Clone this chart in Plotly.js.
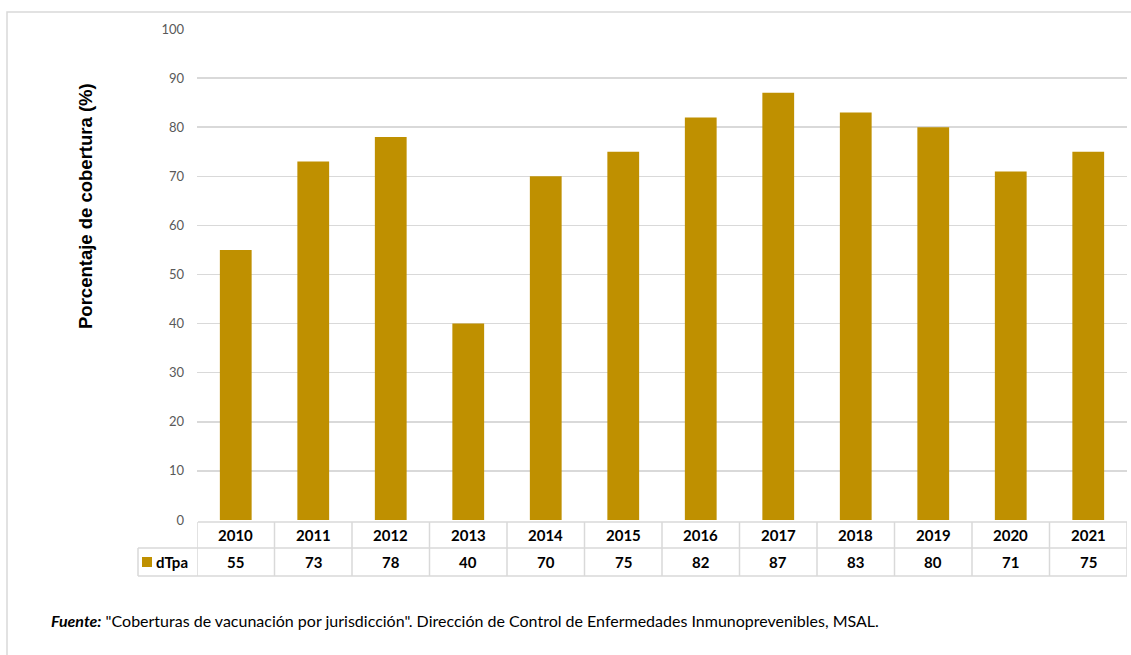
<!DOCTYPE html>
<html>
<head>
<meta charset="utf-8">
<script src="https://cdn.plot.ly/plotly-3.0.1.min.js"></script>
<style>html,body{margin:0;padding:0;background:#fff;}#chart{width:1131px;height:655px;}</style>
</head>
<body>
<div id="chart"></div>
<script>
const years = ["2010","2011","2012","2013","2014","2015","2016","2017","2018","2019","2020","2021"];
const dtpa = [55, 73, 78, 40, 70, 75, 82, 87, 83, 80, 71, 75];
const seriesName = "dTpa";
const yTicks = [0,10,20,30,40,50,60,70,80,90,100];

const W = 1131, H = 655;
const L = 197, R = 4, T = 29, B = 135;
const pw = W - L - R, ph = H - T - B;
const px = v => (v - L) / pw;           // pixel x -> paper
const py = v => (H - B - v) / ph;       // pixel y -> paper

const gold = '#BF9000';
const grid = '#d9d9d9';
const font = 'Lato, "Open Sans", sans-serif';

const shapes = [];
const annotations = [];

// outer frame
shapes.push({type:'rect', xref:'paper', yref:'paper', x0:px(7), x1:px(1145), y0:py(670), y1:py(12),
  line:{color:grid, width:1.5}, fillcolor:'rgba(0,0,0,0)', layer:'below'});

// table rows
const yTop = py(522), yMid = py(548), yBot = py(576);
shapes.push({type:'line', xref:'paper', yref:'paper', x0:px(198), x1:1, y0:yTop, y1:yTop, line:{color:grid, width:1.5}});
shapes.push({type:'line', xref:'paper', yref:'paper', x0:px(138), x1:1, y0:yMid, y1:yMid, line:{color:grid, width:1.5}});
shapes.push({type:'line', xref:'paper', yref:'paper', x0:px(138), x1:1, y0:yBot, y1:yBot, line:{color:grid, width:1.5}});
shapes.push({type:'line', xref:'paper', yref:'paper', x0:px(138), x1:px(138), y0:yMid, y1:yBot, line:{color:grid, width:1.5}});
for (let i = 0; i <= years.length; i++) {
  shapes.push({type:'line', xref:'x', yref:'paper', x0:i-0.5, x1:i-0.5, y0:yTop, y1:yBot, line:{color:grid, width:1.5}});
}
// legend key
shapes.push({type:'rect', xref:'paper', yref:'paper', x0:px(142), x1:px(152), y0:py(567), y1:py(557),
  fillcolor:gold, line:{width:0}});
annotations.push({xref:'paper', yref:'paper', x:px(154), y:(yMid+yBot)/2, xanchor:'left', yanchor:'middle',
  text:'<b>'+seriesName+'</b>', showarrow:false, font:{family:font, size:15, color:'#000'}});

years.forEach((yr, i) => {
  annotations.push({xref:'x', yref:'paper', x:i, y:(yTop+yMid)/2, xanchor:'center', yanchor:'middle',
    text:'<b>'+yr+'</b>', showarrow:false, font:{family:font, size:15, color:'#000'}});
  annotations.push({xref:'x', yref:'paper', x:i, y:(yMid+yBot)/2, xanchor:'center', yanchor:'middle',
    text:'<b>'+dtpa[i]+'</b>', showarrow:false, font:{family:font, size:15, color:'#000'}});
});

// y title
annotations.push({xref:'paper', yref:'paper', x:px(86), y:py(206), xanchor:'center', yanchor:'middle',
  textangle:-90, text:'<b>Porcentaje de cobertura (%)</b>', showarrow:false,
  font:{family:'"Liberation Sans", Arial, sans-serif', size:18.5, color:'#000'}});

// footer
annotations.push({xref:'paper', yref:'paper', x:px(49), y:py(620), xanchor:'left', yanchor:'middle',
  text:'<b><i>Fuente:</i></b> "Coberturas de vacunación por jurisdicción". Dirección de Control de Enfermedades Inmunoprevenibles, MSAL.',
  showarrow:false, font:{family:font, size:16, color:'#000'}});

const data = [{
  type:'bar', x:years, y:dtpa, name:seriesName,
  marker:{color:gold, line:{width:0}}, hoverinfo:'x+y'
}];

const layout = {
  width:W, height:H,
  margin:{l:L, r:R, t:T, b:B},
  paper_bgcolor:'#fff', plot_bgcolor:'#fff',
  showlegend:false,
  bargap:0.59,
  xaxis:{type:'category', range:[-0.5, years.length-0.5], showticklabels:false, showgrid:false,
    zeroline:false, showline:false, ticks:''},
  yaxis:{range:[0,100], tickvals:yTicks, showgrid:true, gridcolor:grid, gridwidth:1.5,
    zeroline:false, showline:false, ticks:'', ticklabelstandoff:12,
    tickfont:{family:font, size:13, color:'#595959'}},
  shapes:shapes,
  annotations:annotations
};

Plotly.newPlot('chart', data, layout, {displayModeBar:false, staticPlot:true});
</script>
</body>
</html>
